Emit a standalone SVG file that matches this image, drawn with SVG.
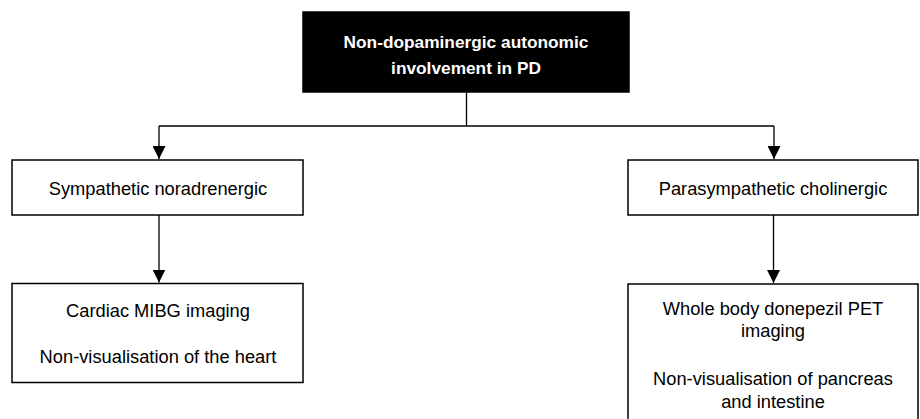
<svg xmlns="http://www.w3.org/2000/svg" width="920" height="419" viewBox="0 0 920 419">
<defs>
<style>
.box{fill:#fff;stroke:#000;stroke-width:1.5}
.dark{fill:#000;stroke:#000;stroke-width:1.5}
.t{font-family:"Liberation Sans",Arial,sans-serif;font-size:18.3px;fill:#000;text-anchor:middle}
.tb{font-family:"Liberation Sans",Arial,sans-serif;font-size:17.3px;font-weight:bold;fill:#fff;text-anchor:middle}
.ln{fill:none;stroke:#000;stroke-width:1.3}
</style>
<marker id="ah" viewBox="0 0 13 13" refX="13" refY="6.5" markerWidth="13" markerHeight="13" markerUnits="userSpaceOnUse" orient="auto">
<path d="M0,0 L13,6.5 L0,13 Z" fill="#000"/>
</marker>
</defs>
<rect width="920" height="419" fill="#fff"/>
<g id="connectors">
<path class="ln" d="M466.5,92 V126"/>
<path class="ln" d="M159,126 H774"/>
<path class="ln" d="M159,126 V159" marker-end="url(#ah)"/>
<path class="ln" d="M774,126 V159" marker-end="url(#ah)"/>
<path class="ln" d="M159,215 V282.5" marker-end="url(#ah)"/>
<path class="ln" d="M773.5,215 V283" marker-end="url(#ah)"/>
</g>
<g id="root">
<rect class="dark" x="303" y="12" width="326" height="80"/>
<text class="tb" x="466" y="48">Non-dopaminergic autonomic</text>
<text class="tb" x="466" y="74">involvement in PD</text>
</g>
<g id="sympathetic">
<rect class="box" x="12" y="160" width="291" height="55"/>
<text class="t" x="158" y="195">Sympathetic noradrenergic</text>
</g>
<g id="parasympathetic">
<rect class="box" x="628" y="160" width="290" height="55"/>
<text class="t" x="773" y="195">Parasympathetic cholinergic</text>
</g>
<g id="mibg">
<rect class="box" x="12" y="283.5" width="291" height="99"/>
<text class="t" x="158" y="317">Cardiac MIBG imaging</text>
<text class="t" x="158" y="363">Non-visualisation of the heart</text>
</g>
<g id="donepezil">
<rect class="box" x="628" y="284" width="290" height="140"/>
<text class="t" x="773" y="315">Whole body donepezil PET</text>
<text class="t" x="773" y="337">imaging</text>
<text class="t" x="773" y="385">Non-visualisation of pancreas</text>
<text class="t" x="773" y="408">and intestine</text>
</g>
</svg>
